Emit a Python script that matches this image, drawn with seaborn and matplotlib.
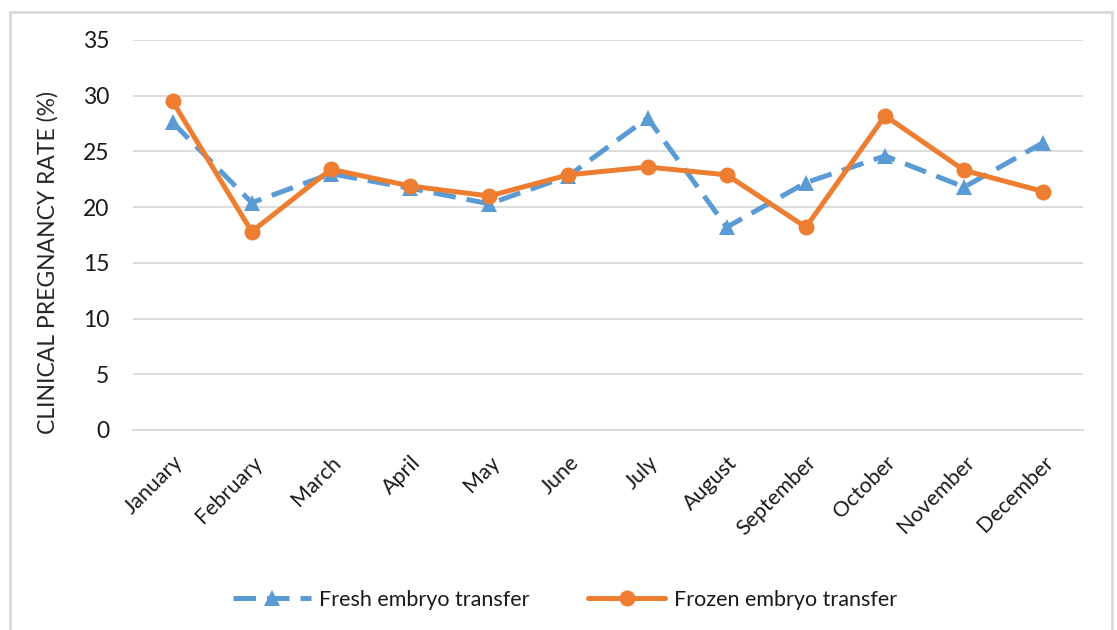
import seaborn as sns
import matplotlib.pyplot as plt
import pandas as pd
from matplotlib.patches import Rectangle

# Данные
months = ['January', 'February', 'March', 'April', 'May', 'June', 'July',
          'August', 'September', 'October', 'November', 'December']
fresh = [27.6, 20.4, 23.0, 21.7, 20.3, 22.8, 28.0, 18.2, 22.2, 24.6, 21.8, 25.8]
frozen = [29.5, 17.8, 23.4, 21.9, 21.0, 22.9, 23.6, 22.9, 18.2, 28.2, 23.3, 21.4]
series_names = ['Fresh embryo transfer', 'Frozen embryo transfer']

blue = '#5B9BD5'
orange = '#ED7D31'
grey = '#D9D9D9'

df = pd.DataFrame({
    'Month': months * 2,
    'Rate': fresh + frozen,
    'Group': [series_names[0]] * len(months) + [series_names[1]] * len(months),
})

sns.set_style('white')
plt.rcParams['font.family'] = ['Lato', 'DejaVu Sans']
plt.rcParams['text.color'] = '#1a1a1a'

fig = plt.figure(figsize=(11.17, 6.3), dpi=100)
ax = fig.add_axes([133 / 1117, 1 - 430 / 630, 950 / 1117, 390 / 630])

sns.lineplot(data=df, x='Month', y='Rate', hue='Group', style='Group',
             palette=[blue, orange],
             dashes={series_names[0]: (4.5, 2.2), series_names[1]: ''},
             markers={series_names[0]: '^', series_names[1]: 'o'},
             markersize=11.5, markeredgewidth=0, linewidth=3.6, sort=False, ax=ax)

ax.set_xlim(-0.5, len(months) - 0.5)
ax.set_ylim(0, 35)
ax.set_yticks(range(0, 36, 5))
ax.yaxis.grid(True, color=grey, linewidth=1.3)
ax.xaxis.grid(False)
for s in ['top', 'right', 'left']:
    ax.spines[s].set_visible(False)
ax.spines['bottom'].set_color(grey)
ax.spines['bottom'].set_linewidth(1.3)

ax.set_xticks(range(len(months)))
ax.set_xticklabels(months, rotation=45, ha='right', rotation_mode='anchor', fontsize=15.5)
ax.set_xticks([i - 0.5 for i in range(len(months) + 1)], minor=True)
ax.tick_params(axis='x', which='major', length=0, pad=16, labelcolor='#1a1a1a')
ax.tick_params(axis='x', which='minor', length=7, color=grey, width=1.3)
ax.tick_params(axis='y', length=0, labelsize=16.5, pad=17, labelcolor='#1a1a1a')

ax.set_xlabel('')
ax.set_ylabel('CLINICAL PREGNANCY RATE (%)', fontsize=16.5)
ax.yaxis.set_label_coords(-0.078, 0.43)

handles, labels = ax.get_legend_handles_labels()
ax.legend(handles, labels, loc='center', bbox_to_anchor=(565 / 1117, 1 - 600 / 630),
          bbox_transform=fig.transFigure, ncol=2, frameon=False, fontsize=15.5,
          handlelength=3.6, handletextpad=0.4, columnspacing=2.7)

# Рамка вокруг рисунка
fig.patches.append(Rectangle((10 / 1117, -0.05), 1102 / 1117, 1.05 - 12 / 630,
                             transform=fig.transFigure, fill=False,
                             edgecolor=grey, linewidth=2))

fig.savefig('out.png', dpi=100)
